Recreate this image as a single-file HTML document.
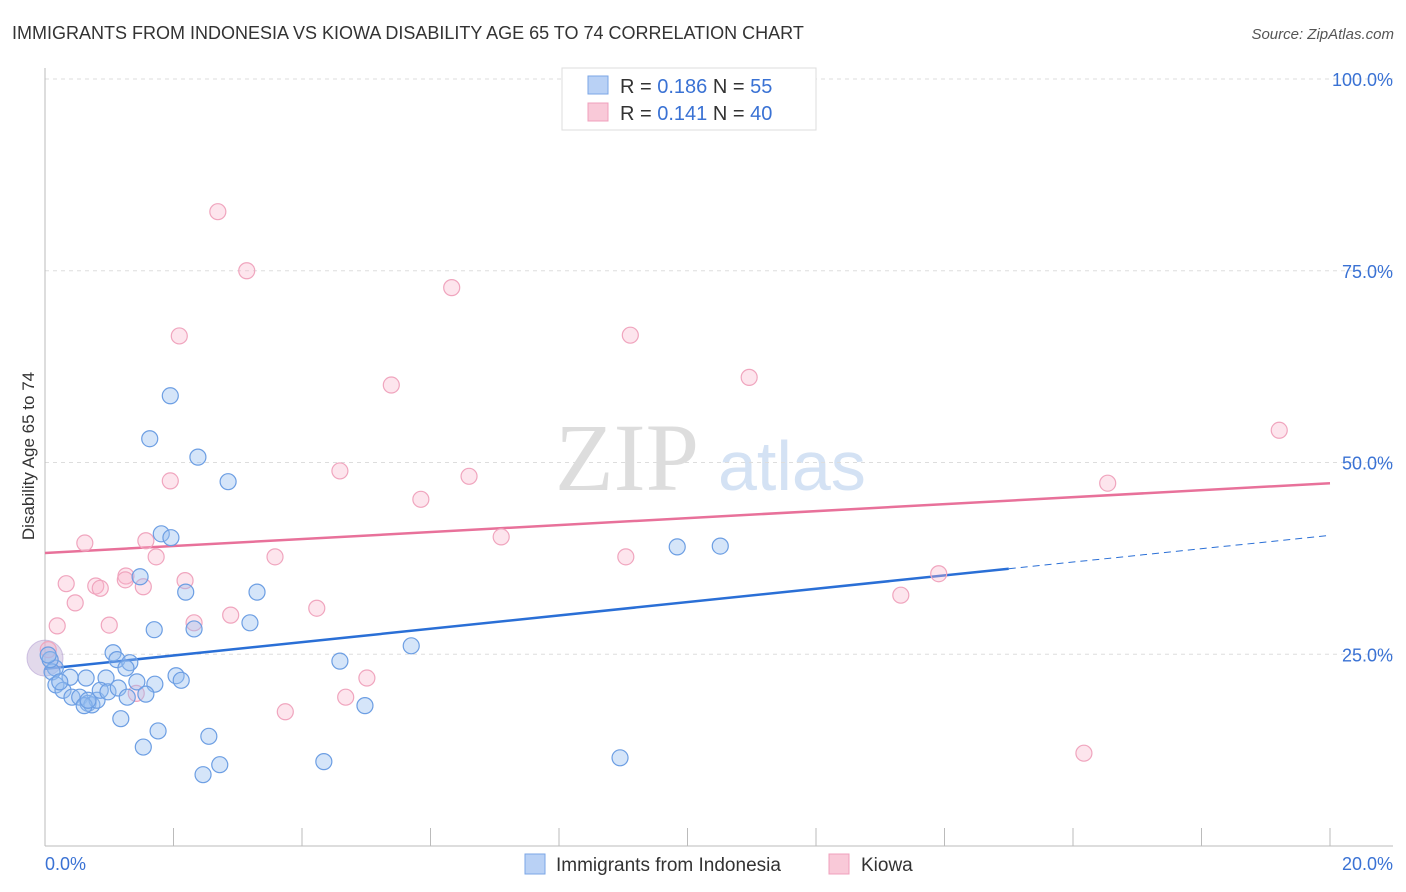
<!DOCTYPE html>
<html><head><meta charset="utf-8"><style>
body{margin:0;background:#fff;font-family:"Liberation Sans",sans-serif;}
#wrap{position:relative;width:1406px;height:892px;overflow:hidden;}
</style></head><body>
<div id="wrap">
<svg id="chart" width="1406" height="892">
<text x="12" y="39" font-size="18" fill="#333">IMMIGRANTS FROM INDONESIA VS KIOWA DISABILITY AGE 65 TO 74 CORRELATION CHART</text>
<text x="1394" y="39" font-size="15" fill="#555" font-style="italic" text-anchor="end">Source: ZipAtlas.com</text>
<text x="34" y="456" font-size="17" fill="#333" text-anchor="middle" transform="rotate(-90 34 456)">Disability Age 65 to 74</text>
<text x="555" y="490" font-size="96" fill="#ddd" font-family="Liberation Serif,serif">ZIP</text>
<text x="718" y="490" font-size="70" fill="#d4e2f4">atlas</text>
<g id="grid"></g><g id="axes"></g><g id="lines"></g><g id="pts"></g>
<g>
<rect x="562" y="68" width="254" height="62" fill="#fff" stroke="#ddd"/>
<rect x="588" y="76" width="20" height="18" fill="#b9d1f5" stroke="#7ba6e6"/>
<rect x="588" y="103" width="20" height="18" fill="#f9c9d8" stroke="#f0a0bc"/>
<text x="620" y="93" font-size="20" fill="#333">R = <tspan fill="#3a72d4">0.186</tspan>   N = <tspan fill="#3a72d4">55</tspan></text>
<text x="620" y="120" font-size="20" fill="#333">R = <tspan fill="#3a72d4"> 0.141</tspan>   N = <tspan fill="#3a72d4">40</tspan></text>
</g>
<g>
<rect x="525" y="854" width="20" height="20" fill="#b9d1f5" stroke="#7ba6e6"/>
<text x="556" y="871" font-size="19" fill="#333">Immigrants from Indonesia</text>
<rect x="829" y="854" width="20" height="20" fill="#f9c9d8" stroke="#f0a0bc"/>
<text x="861" y="871" font-size="19" fill="#333">Kiowa</text>
</g>
</svg></div>
<script>
const xTicks=[0,20];
const yTicks=[25,50,75,100];
const blueX=[1.95,1.63,2.38,2.85,1.81,1.96,1.48,2.19,3.30,1.70,2.32,3.19,9.84,10.51,5.70,4.59,4.98,4.34,8.95,2.46,2.72,1.53,1.76,2.55,1.18,1.06,1.12,1.32,1.26,2.04,2.12,1.71,1.43,0.95,0.64,0.39,0.16,0.11,0.08,0.17,0.28,0.42,0.54,0.67,0.73,0.81,0.86,0.98,1.14,1.28,1.57,0.61,0.67,0.05,0.23];
const blueY=[58.7,53.1,50.7,47.5,40.7,40.2,35.1,33.1,33.1,28.2,28.3,29.1,39.0,39.1,26.1,24.1,18.3,11.0,11.5,9.3,10.6,12.9,15.0,14.3,16.6,25.2,24.3,23.9,23.2,22.2,21.6,21.1,21.4,21.9,21.9,22.0,23.2,22.7,24.3,21.0,20.3,19.4,19.4,18.6,18.4,19.0,20.3,20.1,20.6,19.4,19.8,18.3,19.0,24.9,21.4];
const pinkX=[2.69,3.14,6.33,2.09,9.11,5.39,10.96,19.21,4.59,6.60,1.95,5.85,16.54,7.10,1.57,0.62,1.73,3.58,9.04,13.91,1.26,0.33,0.79,0.86,1.53,2.18,13.32,0.47,4.23,2.89,2.32,1.00,0.19,5.01,4.68,1.42,3.74,16.17,0.05,1.25];
const pinkY=[82.7,75.0,72.8,66.5,66.6,60.1,61.1,54.2,48.9,48.2,47.6,45.2,47.3,40.3,39.8,39.5,37.7,37.7,37.7,35.5,35.2,34.2,33.9,33.6,33.8,34.6,32.7,31.7,31.0,30.1,29.1,28.8,28.7,21.9,19.4,19.9,17.5,12.1,25.6,34.7];
const blueTrend=[23.1,40.5];
const blueSolidEnd=15.0;
const pinkTrend=[38.2,47.3];
const NS="http://www.w3.org/2000/svg";
const sx=v=>45+v*64.25, sy=v=>846-v*7.67;
function mk(parent,tag,attrs){const e=document.createElementNS(NS,tag);for(const k in attrs)e.setAttribute(k,attrs[k]);document.getElementById(parent).appendChild(e);return e;}
yTicks.forEach(t=>{
 const l=mk('grid','line',{x1:45,x2:1393,y1:sy(t),y2:sy(t),stroke:'#ddd','stroke-dasharray':'4,4'});
 
 
 const tx=mk('grid','text',{x:1393,y:sy(t)+7,'font-size':18,fill:'#3a72d4','text-anchor':'end'});
 tx.textContent=t.toFixed(1)+'%';
 
 
});
const ax=mk('axes','line',{x1:45,x2:45,y1:68,y2:846,stroke:'#bbb'});


const bx=mk('axes','line',{x1:45,x2:1393,y1:846,y2:846,stroke:'#bbb'});


for(let i=1;i<=10;i++){
 const t=mk('axes','line',{x1:sx(i*2),x2:sx(i*2),y1:828,y2:846,stroke:'#bbb'});
 
 
}
xTicks.forEach((t,i)=>{
 const tx=mk('axes','text',{x:i==0?45:1393,y:870,'font-size':18,fill:'#3a72d4','text-anchor':i==0?'start':'end'});
 tx.textContent=t.toFixed(1)+'%';
 
 
});
const bt=v=>blueTrend[0]+(blueTrend[1]-blueTrend[0])*v/20;
let l1=mk('lines','line',{x1:sx(0),y1:sy(bt(0)),x2:sx(blueSolidEnd),y2:sy(bt(blueSolidEnd)),stroke:'#2a6fd6','stroke-width':2.5});


let l2=mk('lines','line',{x1:sx(blueSolidEnd),y1:sy(bt(blueSolidEnd)),x2:sx(20),y2:sy(bt(20)),stroke:'#2a6fd6','stroke-width':1,'stroke-dasharray':'7,5'});


let l3=mk('lines','line',{x1:sx(0),y1:sy(pinkTrend[0]),x2:sx(20),y2:sy(pinkTrend[1]),stroke:'#e8719a','stroke-width':2.5});


const big=mk('pts','circle',{cx:sx(0),cy:sy(24.5),r:18,fill:'rgba(190,170,210,0.45)',stroke:'rgba(180,160,210,0.6)'});


pinkX.forEach((x,i)=>{
 const c=mk('pts','circle',{cx:sx(x),cy:sy(pinkY[i]),r:8,fill:'rgba(248,180,202,0.35)',stroke:'#f0a5be','stroke-width':1.2});
 
 
});
blueX.forEach((x,i)=>{
 const c=mk('pts','circle',{cx:sx(x),cy:sy(blueY[i]),r:8,fill:'rgba(150,190,240,0.4)',stroke:'#6c9ee3','stroke-width':1.2});
 
 
});
</script>
</body></html>
